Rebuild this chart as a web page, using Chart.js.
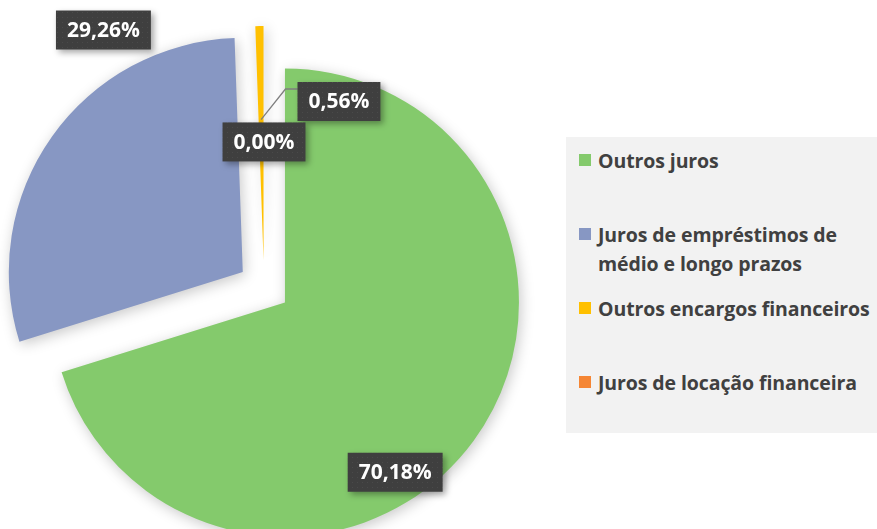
<!DOCTYPE html>
<html>
<head>
<meta charset="utf-8">
<script src="https://cdn.jsdelivr.net/npm/chart.js@4.4.0/dist/chart.umd.min.js"></script>
<style>
    html, body { margin: 0; padding: 0; background: #ffffff; }
    #wrap { position: relative; width: 877px; height: 529px; overflow: hidden; }
    #chart-box { position: absolute; left: 0; top: 0; width: 877px; height: 529px; }
    #legend {
        position: absolute; left: 566px; top: 137px; width: 311px; height: 296px;
        background: #f2f2f2;
        font-family: 'Open Sans', sans-serif; font-weight: 700; font-size: 19.5px; color: #404040;
        letter-spacing: -0.1px;
    }
    .item { position: absolute; left: 13px; padding-left: 19px; line-height: 29px; white-space: nowrap; }
    .item i { position: absolute; left: 0; top: 8px; width: 12px; height: 12px; }
</style>
</head>
<body>
<div id="wrap">
    <div id="chart-box"><canvas id="chart"></canvas></div>
    <div id="legend"></div>
</div>
<script>
// categories (multi-line label kept as array of lines)
const categories = [
    'Outros juros',
    ['Juros de empréstimos de', 'médio e longo prazos'],
    'Outros encargos financeiros',
    'Juros de locação financeira'
];
// share of each category, %
const shares = [70.18, 29.26, 0.56, 0.00];
const sliceColors = ['#84CA6C', '#8797C3', '#FFC000', '#F58634'];
// how far each slice is pulled out of the pie (px)
const explode = [26, 26, 27, 0];
// label placement: angle (deg, clockwise from top) and distance (x outer radius)
const labelAngles = [144.7, 328, 22, 0];
const labelDists = [0.97, 1.295, 0.855, 0.62];

const fmt = v => v.toFixed(2).replace('.', ',') + '%';

// legend built from the same arrays
const legendEl = document.getElementById('legend');
categories.forEach((c, i) => {
    const d = document.createElement('div');
    d.className = 'item';
    d.style.top = (8.5 + i * 74) + 'px';
    const lines = Array.isArray(c) ? c : [c];
    d.innerHTML = '<i style="background:' + sliceColors[i] + '"></i>' + lines.join('<br>');
    legendEl.appendChild(d);
});

function dotPattern(ctx) {
    const p = document.createElement('canvas');
    p.width = 5; p.height = 5;
    const pc = p.getContext('2d');
    pc.fillStyle = '#3f3f3f';
    pc.fillRect(0, 0, 5, 5);
    pc.fillStyle = '#4a4a4a';
    pc.fillRect(2, 2, 1, 1);
    return ctx.createPattern(p, 'repeat');
}

// pull slices out along their mid angle (chart.js own offset also grows the radius)
const explodePlugin = {
    id: 'explode',
    afterDatasetUpdate(chart, args) {
        args.meta.data.forEach((arc, i) => {
            const mid = (arc.startAngle + arc.endAngle) / 2;
            arc.x += Math.cos(mid) * explode[i];
            arc.y += Math.sin(mid) * explode[i];
        });
    }
};

const shadowPlugin = {
    id: 'sliceShadow',
    beforeDatasetsDraw(chart) {
        const c = chart.ctx;
        c.save();
        c.shadowColor = 'rgba(0,0,0,0.22)';
        c.shadowBlur = 14;
        c.shadowOffsetX = 2;
        c.shadowOffsetY = 3;
    },
    afterDatasetsDraw(chart) {
        chart.ctx.restore();
    }
};

const labelPlugin = {
    id: 'boxLabels',
    afterDraw(chart) {
        const ctx = chart.ctx;
        const meta = chart.getDatasetMeta(0);
        const ds = chart.data.datasets[0];
        const pattern = dotPattern(ctx);
        const ca = chart.chartArea;
        const cx0 = (ca.left + ca.right) / 2;
        const cy0 = (ca.top + ca.bottom) / 2;
        ctx.save();
        ctx.font = 'bold 21px "Open Sans", sans-serif';
        ctx.textAlign = 'center';
        ctx.textBaseline = 'middle';

        const boxes = meta.data.map((arc, i) => {
            const a = (labelAngles[i] - 90) * Math.PI / 180;
            const r = arc.outerRadius * labelDists[i];
            const cx = cx0 + Math.cos(a) * r;
            const cy = cy0 + Math.sin(a) * r;
            const w = ctx.measureText(fmt(ds.data[i])).width + 22;
            const h = 39;
            return { cx, cy, w, h, left: cx - w / 2, top: cy - h / 2 };
        });

        // leader line from the small yellow slice to its label
        const ya = meta.data[2];
        const mid = (ya.startAngle + ya.endAngle) / 2;
        const rr = ya.outerRadius * 0.6;
        const sx = ya.x + Math.cos(mid) * rr;
        const sy = ya.y + Math.sin(mid) * rr;
        const b = boxes[2];
        const ey = b.top + 7;
        ctx.strokeStyle = '#7f7f7f';
        ctx.lineWidth = 1.3;
        ctx.beginPath();
        ctx.moveTo(sx, sy);
        ctx.lineTo(b.left - 12, ey);
        ctx.lineTo(b.left, ey);
        ctx.stroke();

        boxes.forEach((bx, i) => {
            ctx.save();
            ctx.shadowColor = 'rgba(0,0,0,0.35)';
            ctx.shadowBlur = 6;
            ctx.shadowOffsetX = 3;
            ctx.shadowOffsetY = 3;
            ctx.fillStyle = pattern;
            ctx.fillRect(bx.left, bx.top, bx.w, bx.h);
            ctx.restore();
            ctx.fillStyle = '#ffffff';
            ctx.fillText(fmt(ds.data[i]), bx.cx, bx.cy + 1);
        });
        ctx.restore();
    }
};

new Chart(document.getElementById('chart').getContext('2d'), {
    type: 'pie',
    data: {
        labels: categories,
        datasets: [{
            data: shares,
            backgroundColor: sliceColors,
            borderWidth: 0,
            offset: 0,
            hoverOffset: 0
        }]
    },
    options: {
        responsive: true,
        maintainAspectRatio: false,
        animation: false,
        events: [],
        radius: 234,
        layout: { padding: { left: 0, right: 349, top: 45, bottom: 0 } },
        plugins: {
            legend: { display: false },
            tooltip: { enabled: false }
        }
    },
    plugins: [explodePlugin, shadowPlugin, labelPlugin]
});
</script>
</body>
</html>
